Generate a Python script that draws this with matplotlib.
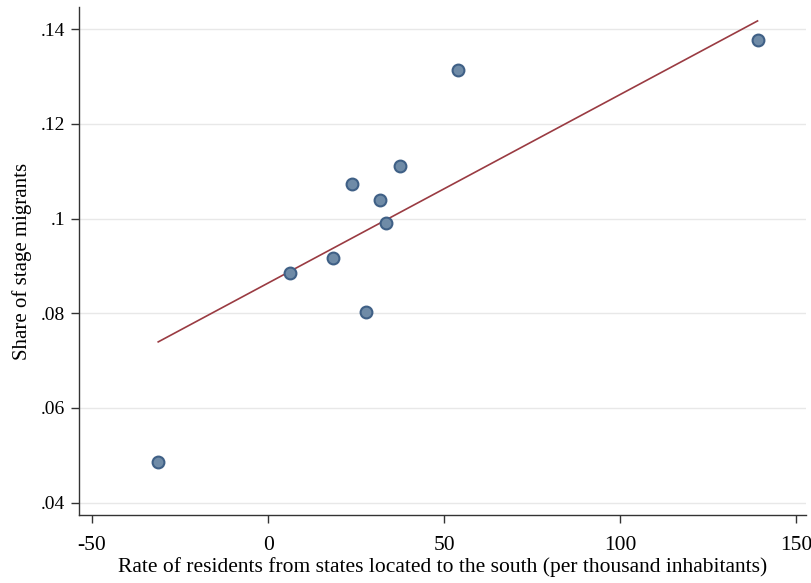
import numpy as np
import matplotlib
matplotlib.use("Agg")
import matplotlib.pyplot as plt

# data
rate_south = [-31.2, 6.3, 18.4, 23.9, 27.8, 31.8, 33.4, 37.6, 53.8, 139.0]
share_stage = [0.0485, 0.0885, 0.0916, 0.1074, 0.0802, 0.1040, 0.0991, 0.1111, 0.1313, 0.1377]
# fitted line (as drawn in the original)
fit_intercept = 0.08638
fit_slope = 0.0003984

xticks = [-50, 0, 50, 100, 150]
yticks = [0.04, 0.06, 0.08, 0.10, 0.12, 0.14]
ytick_labels = [".04", ".06", ".08", ".1", ".12", ".14"]

plt.rcParams['font.family'] = ['Liberation Serif', 'DejaVu Serif']

fig = plt.figure(figsize=(8.11, 5.83), dpi=100)
ax = fig.add_axes([0.0974, 0.116, 0.8966, 0.872])

xs = np.linspace(min(rate_south), max(rate_south), 2)
ax.plot(xs, fit_intercept + fit_slope * xs, color='#9a3b42', lw=1.2, zorder=2)
ax.plot(rate_south, share_stage, 'o', ms=8.5, mfc='#6f8ba7', mec='#3f6086', mew=1.5, zorder=3)

ax.set_xlim(-53.7, 152.8)
ax.set_ylim(0.0373, 0.1447)
ax.set_xticks(xticks)
ax.set_xticklabels([str(t) for t in xticks])
ax.set_yticks(yticks)
ax.set_yticklabels(ytick_labels)
ax.grid(axis='y', color='#e8e8e8', lw=1.0, zorder=0)
ax.set_axisbelow(True)

for s in ['top', 'right']:
    ax.spines[s].set_visible(False)
for s in ['left', 'bottom']:
    ax.spines[s].set_linewidth(1.0)
    ax.spines[s].set_color('#333333')

ax.tick_params(direction='out', length=6, width=1.0, color='#333333')
ax.tick_params(axis='x', labelsize=15.5, pad=9)
ax.tick_params(axis='y', labelsize=14, pad=4)
ax.set_xlabel('Rate of residents from states located to the south (per thousand inhabitants)',
              fontsize=15.5, labelpad=1)
ax.set_ylabel('Share of stage migrants', fontsize=15, labelpad=6)

fig.savefig('out.png', dpi=100, facecolor='white')
